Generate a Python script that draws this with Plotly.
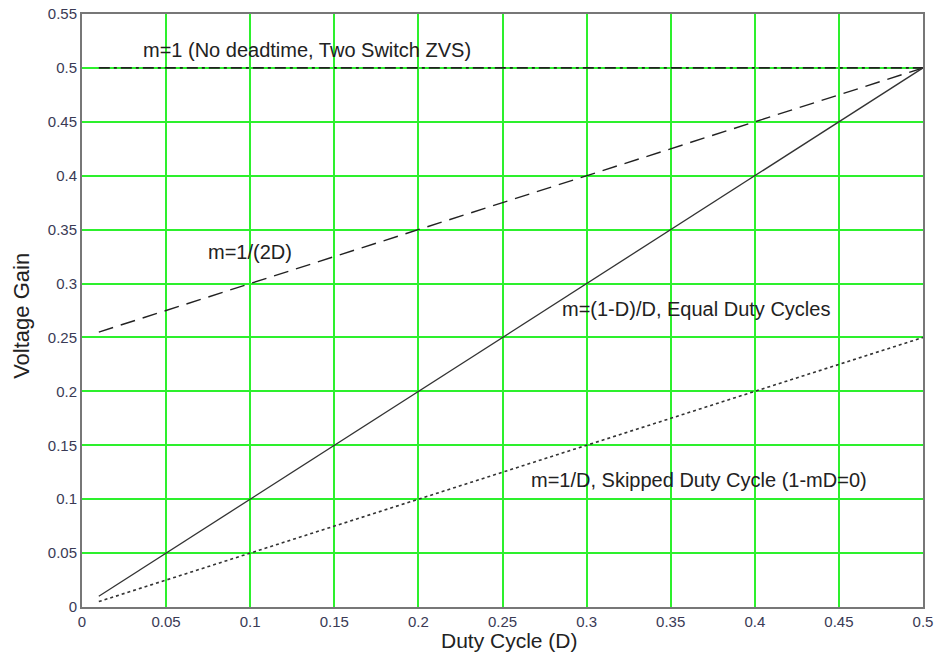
import plotly.graph_objects as go

# Data
d_flat = [0.01, 0.5]
gain_flat = [0.5, 0.5]            # m=1 (No deadtime, Two Switch ZVS)

d_half = [0.01, 0.05, 0.1, 0.2, 0.3, 0.4, 0.5]
gain_half = [0.255, 0.275, 0.3, 0.35, 0.4, 0.45, 0.5]   # m=1/(2D)

d_equal = [0.01, 0.05, 0.1, 0.2, 0.3, 0.4, 0.5]
gain_equal = [0.01, 0.05, 0.1, 0.2, 0.3, 0.4, 0.5]      # m=(1-D)/D

d_skip = [0.01, 0.05, 0.1, 0.2, 0.3, 0.4, 0.5]
gain_skip = [0.005, 0.025, 0.05, 0.1, 0.15, 0.2, 0.25]   # m=1/D

x_ticks = [0, 0.05, 0.1, 0.15, 0.2, 0.25, 0.3, 0.35, 0.4, 0.45, 0.5]
x_tick_text = ["0", "0.05", "0.1", "0.15", "0.2", "0.25", "0.3", "0.35", "0.4", "0.45", "0.5"]
y_ticks = [0, 0.05, 0.1, 0.15, 0.2, 0.25, 0.3, 0.35, 0.4, 0.45, 0.5, 0.55]
y_tick_text = ["0", "0.05", "0.1", "0.15", "0.2", "0.25", "0.3", "0.35", "0.4", "0.45", "0.5", "0.55"]

labels = [
    ("m=1 (No deadtime, Two Switch ZVS)", 0.134, 0.517),
    ("m=1/(2D)", 0.1, 0.329),
    ("m=(1-D)/D, Equal Duty Cycles", 0.365, 0.276),
    ("m=1/D, Skipped Duty Cycle (1-mD=0)", 0.367, 0.118),
]

FONT = "Liberation Sans, Arial, sans-serif"

fig = go.Figure()
fig.add_trace(go.Scatter(x=d_flat, y=gain_flat, mode="lines",
                         line=dict(color="#222222", width=1.6, dash="11px,4px,3px,4px"),
                         showlegend=False))
fig.add_trace(go.Scatter(x=d_half, y=gain_half, mode="lines",
                         line=dict(color="#222222", width=1.4, dash="15px,8px"),
                         showlegend=False))
fig.add_trace(go.Scatter(x=d_equal, y=gain_equal, mode="lines",
                         line=dict(color="#333333", width=1.3),
                         showlegend=False))
fig.add_trace(go.Scatter(x=d_skip, y=gain_skip, mode="lines",
                         line=dict(color="#333333", width=1.6, dash="3px,3px"),
                         showlegend=False))

annos = []
for txt, x, y in labels:
    annos.append(dict(text=txt, x=x, y=y, xref="x", yref="y", showarrow=False,
                      xanchor="center", yanchor="middle",
                      font=dict(family=FONT, size=20, color="#222222")))
annos.append(dict(text="Voltage Gain", x=-0.0713, y=0.491, xref="paper", yref="paper",
                  showarrow=False, textangle=-90, xanchor="center", yanchor="middle",
                  font=dict(family=FONT, size=22, color="#222222")))
annos.append(dict(text="Duty Cycle (D)", x=0.508, y=-0.056, xref="paper", yref="paper",
                  showarrow=False, xanchor="center", yanchor="middle",
                  font=dict(family=FONT, size=21, color="#222222")))

axis_common = dict(showgrid=True, gridcolor="rgb(45,240,45)", gridwidth=2,
                   showline=True, linecolor="#777777", linewidth=2, mirror=True,
                   zeroline=False, ticks="", automargin=False,
                   tickfont=dict(family=FONT, size=15, color="#3a3a55"))

fig.update_layout(
    width=937, height=657,
    margin=dict(l=82, r=14, t=14, b=50),
    paper_bgcolor="white", plot_bgcolor="white",
    xaxis=dict(range=[0, 0.5], tickvals=x_ticks, ticktext=x_tick_text, **axis_common),
    yaxis=dict(range=[0, 0.55], tickvals=y_ticks, ticktext=y_tick_text, **axis_common),
    annotations=annos,
)

fig.write_html("out.html")
